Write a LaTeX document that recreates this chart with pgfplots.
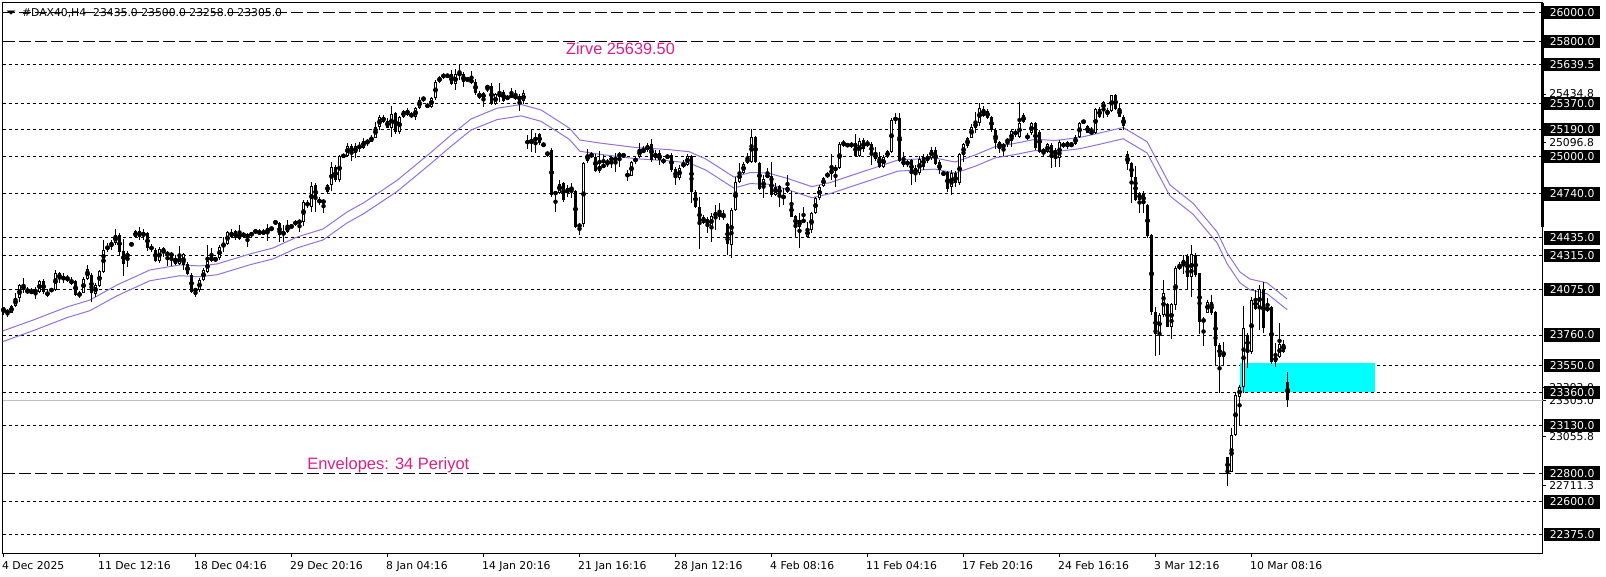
\documentclass[border=0pt]{standalone}
\usepackage{fontspec}
\setmainfont{DejaVu Sans}
\newfontfamily\arialfont{Liberation Sans}
\usepackage{pgfplots}
\usepackage{pgfplotstable}
\pgfplotsset{compat=1.18}

\definecolor{envcol}{RGB}{147,112,219}
\definecolor{annot}{RGB}{220,30,140}
\definecolor{bidgray}{RGB}{192,192,192}
\definecolor{zonecyan}{RGB}{0,255,255}

% H4 bars: index, open, high, low, close
\pgfplotstableread{
i o h l c
0 23952 23957 23899 23922
1 23929 23934 23887 23915
2 23915 23969 23911 23962
3 23962 24050 23957 24015
4 24015 24114 23992 24107
5 24107 24154 24050 24073
6 24077 24096 24045 24050
7 24068 24084 24045 24050
8 24059 24091 24008 24073
9 24061 24142 24054 24135
10 24135 24147 24045 24059
11 24061 24073 24022 24033
12 24077 24084 24061 24068
13 24073 24212 24068 24189
14 24193 24200 24119 24147
15 24161 24189 24119 24152
16 24161 24177 24131 24138
17 24119 24161 24107 24138
18 24138 24142 24031 24038
19 24031 24068 24015 24054
20 24054 24161 24050 24152
21 24152 24246 24142 24216
22 24179 24193 23992 24050
23 24045 24119 24026 24107
24 24103 24212 24096 24207
25 24200 24420 24193 24351
26 24351 24397 24339 24381
27 24374 24420 24351 24409
28 24397 24494 24386 24455
29 24455 24471 24316 24335
30 24344 24425 24170 24253
31 24323 24344 24235 24305
32 24390 24393 24385 24392
33 24439 24490 24432 24483
34 24443 24513 24420 24483
35 24467 24494 24420 24455
36 24467 24478 24346 24362
37 24369 24392 24339 24360
38 24351 24362 24270 24274
39 24277 24369 24263 24355
40 24362 24374 24305 24332
41 24328 24346 24242 24321
42 24332 24339 24240 24305
43 24293 24316 24247 24253
44 24253 24379 24247 24316
45 24247 24328 24212 24321
46 24253 24270 24177 24184
47 24177 24189 24050 24061
48 24077 24084 24022 24068
49 24073 24154 24061 24142
50 24142 24223 24138 24212
51 24200 24386 24193 24274
52 24274 24362 24270 24309
53 24293 24305 24270 24277
54 24293 24386 24281 24369
55 24369 24439 24339 24397
56 24392 24485 24386 24474
57 24478 24494 24432 24443
58 24483 24490 24420 24432
59 24425 24525 24420 24471
60 24471 24478 24436 24443
61 24443 24467 24374 24455
62 24467 24476 24443 24455
63 24490 24497 24462 24471
64 24471 24494 24455 24472
65 24476 24494 24455 24467
66 24467 24531 24416 24501
67 24501 24513 24490 24494
68 24555 24559 24524 24531
69 24536 24548 24409 24455
70 24455 24524 24409 24478
71 24473 24559 24467 24520
72 24520 24524 24501 24511
73 24529 24559 24520 24548
74 24548 24555 24478 24547
75 24548 24698 24520 24687
76 24680 24698 24640 24659
77 24652 24826 24613 24796
78 24803 24814 24613 24705
79 24705 24721 24663 24675
80 24680 24705 24606 24694
81 24756 24807 24745 24803
82 24803 24965 24761 24925
83 24925 24941 24826 24837
84 24837 25011 24826 25004
85 24999 25016 24995 25011
86 25004 25092 24999 25076
87 25076 25085 24969 25023
88 25023 25092 24992 25076
89 25081 25099 25034 25057
90 25062 25127 25053 25108
91 25108 25122 25076 25099
92 25104 25150 25099 25138
93 25131 25243 25127 25208
94 25208 25289 25185 25277
95 25277 25289 25231 25243
96 25247 25266 25196 25201
97 25201 25354 25138 25294
98 25305 25312 25155 25169
99 25169 25284 25155 25277
100 25277 25324 25266 25317
101 25324 25335 25284 25289
102 25301 25308 25266 25273
103 25277 25347 25254 25335
104 25335 25416 25331 25393
105 25393 25416 25382 25412
106 25354 25370 25335 25353
107 25347 25416 25340 25405
108 25405 25532 25393 25521
109 25521 25562 25509 25551
110 25551 25579 25539 25572
111 25567 25574 25552 25555
112 25572 25602 25497 25502
113 25502 25609 25463 25574
114 25567 25639.5 25532 25579
115 25574 25590 25486 25521
116 25544 25555 25521 25525
117 25532 25595 25502 25516
118 25521 25539 25428 25440
119 25444 25456 25400 25405
120 25405 25447 25347 25440
121 25486 25497 25447 25481
122 25491 25509 25358 25363
123 25363 25440 25358 25433
124 25416 25509 25377 25447
125 25451 25463 25382 25386
126 25400 25428 25393 25416
127 25416 25474 25409 25428
128 25405 25463 25393 25421
129 25423 25433 25317 25386
130 25386 25463 25363 25440
131 25108 25150 25053 25092
132 25092 25185 25034 25115
133 25108 25162 25023 25138
134 25155 25162 25081 25092
135 25092 25097 25064 25074
136 25006 25041 25000 25034
137 25046 25057 24722 24733
138 24752 24756 24617 24740
139 24749 24837 24740 24810
140 24814 24826 24687 24698
141 24745 24803 24722 24779
142 24768 24814 24710 24786
143 24763 24768 24501 24508
144 24508 24541 24455 24532
145 24529 24965 24513 24953
146 24969 25050 24953 25011
147 25000 25034 24988 25016
148 25000 25018 24895 24900
149 24902 25041 24884 24935
150 24941 25011 24925 24930
151 24948 24981 24925 24972
152 24988 25000 24918 24976
153 24972 25023 24895 24995
154 24995 25034 24930 25023
155 25018 25027 24988 25000
156 24879 24907 24833 24865
157 24867 24972 24865 24962
158 24960 25004 24948 24993
159 25000 25092 24988 25050
160 25050 25074 25023 25030
161 25046 25097 25034 25074
162 25087 25120 24965 24976
163 24988 25046 24976 25027
164 25027 25046 24941 24976
165 24976 24988 24948 24965
166 24993 25018 24981 25006
167 25011 25023 24895 24907
168 24911 24925 24803 24849
169 24849 24941 24837 24923
170 24925 24976 24918 24958
171 24941 25018 24935 25004
172 25004 25011 24680 24756
173 24756 24768 24640 24652
174 24652 24721 24355 24536
175 24536 24594 24532 24578
176 24566 24582 24467 24525
177 24513 24606 24409 24587
178 24578 24664 24490 24617
179 24582 24675 24559 24617
180 24578 24629 24559 24594
181 24531 24536 24316 24392
182 24386 24640 24297 24629
183 24629 24860 24624 24826
184 24826 24953 24814 24895
185 24888 24965 24879 24948
186 24988 25027 24948 24958
187 24965 25189 24953 25138
188 25138 25145 24953 24965
189 24958 24965 24768 24775
190 24779 24872 24710 24842
191 24872 24918 24849 24860
192 24865 24965 24721 24733
193 24733 24814 24726 24791
194 24796 24803 24652 24726
195 24733 24779 24664 24703
196 24791 24872 24745 24756
197 24675 24763 24578 24582
198 24587 24594 24443 24518
199 24513 24606 24362 24559
200 24559 24652 24536 24548
201 24443 24548 24432 24494
202 24490 24617 24467 24606
203 24606 24720 24600 24712
204 24715 24800 24700 24790
205 24798 24860 24791 24853
206 24860 24890 24849 24884
207 24877 25016 24837 24914
208 24900 24941 24791 24930
209 24918 25104 24914 25085
210 25076 25115 25069 25104
211 25085 25092 25069 25073
212 25069 25104 25062 25092
213 25092 25155 24999 25006
214 25006 25127 24999 25108
215 25115 25127 25034 25053
216 25081 25115 25069 25092
217 25085 25099 24941 25023
218 25023 25069 24969 24983
219 24999 25034 24923 24930
220 24930 25011 24918 24999
221 24999 25046 24988 25039
222 25034 25266 25023 25254
223 25252 25301 25224 25270
224 25266 25301 24960 24969
225 24941 25034 24930 24976
226 24946 24976 24930 24965
227 24976 24983 24802 24884
228 24918 24941 24826 24884
229 24884 25006 24872 24983
230 24999 25016 24907 24930
231 24969 25016 24953 25006
232 24992 25069 24976 25046
233 25046 25069 24941 24948
234 24960 24976 24877 24907
235 24890 24900 24867 24872
236 24890 24900 24756 24775
237 24791 24907 24733 24884
238 24884 24900 24791 24814
239 24814 25023 24802 25016
240 25011 25092 24960 25085
241 25076 25138 25057 25131
242 25131 25224 25127 25208
243 25201 25312 25162 25238
244 25231 25370 25215 25340
245 25331 25354 25277 25284
246 25317 25331 25261 25266
247 25277 25284 25173 25185
248 25185 25196 25053 25092
249 25099 25108 25023 25062
250 25080 25092 25006 25069
251 25099 25127 25069 25122
252 25108 25185 25069 25178
253 25150 25192 25138 25178
254 25138 25382 25127 25231
255 25238 25301 25231 25289
256 25150 25162 25115 25122
257 25162 25243 25150 25231
258 25231 25238 25046 25057
259 25173 25185 25023 25034
260 25046 25057 24999 25034
261 25034 25092 25023 25085
262 25080 25092 24923 24988
263 25046 25062 24930 24999
264 24988 25115 24930 25104
265 25069 25104 25057 25092
266 25099 25108 25053 25069
267 25076 25104 25069 25085
268 25085 25150 25080 25138
269 25138 25243 25131 25231
270 25238 25254 25231 25247
271 25213 25220 25162 25166
272 25173 25208 25157 25162
273 25162 25335 25157 25328
274 25328 25347 25266 25278
275 25325 25389 25266 25382
276 25289 25335 25278 25325
277 25319 25430 25312 25428
278 25428 25434.8 25324 25328
279 25335 25370 25273 25278
280 25278 25289 25185 25213
281 25018 25041 24907 24949
282 24953 24965 24675 24861
283 24861 24935 24694 24698
284 24698 24756 24606 24749
285 24749 24763 24606 24671
286 24664 24671 24432 24448
287 24455 24462 23899 23922
288 23922 23957 23614 23767
289 23776 23915 23621 23899
290 23899 24142 23888 24050
291 23976 23985 23813 23818
292 23818 23985 23730 23976
293 23969 24240 23934 24223
294 24217 24270 24212 24247
295 24247 24316 24184 24281
296 24309 24323 24077 24165
297 24165 24386 24022 24323
298 24316 24328 24165 24177
299 24189 24193 23767 23853
300 23853 23883 23686 23869
301 23915 24003 23911 23992
302 23992 24038 23899 23911
303 23922 23927 23552 23686
304 23691 23702 23355 23605
305 23609 23714 23552 23644
306 22910 22914 22711.3 22806
307 22810 23111 22806 23065
308 23065 23355 23058 23343
309 23332 23413 23130 23396
310 23396 23962 23355 23806
311 23760 23772 23528 23651
312 23644 24022 23628 24003
313 24015 24073 23934 23938
314 23938 24108 23795 24077
315 24077 24131 23772 23806
316 23929 24015 23922 23952
317 23957 23962 23559 23575
318 23575 23702 23540 23609
319 23605 23841 23598 23698
320 23698 23725 23637 23644
321 23435 23500 23258 23305
}\candles

% Envelopes (34): upper and lower band
\pgfplotstableread{
i up lo
-0.2 23788 23714
7.4 23864 23790
15.9 23955 23881
21.6 24003 23929
28.4 24108 24033
36.6 24212 24137
44.1 24247 24172
49.1 24240 24165
53.4 24254 24179
61.6 24323 24248
67.4 24365 24289
73.4 24441 24365
79.9 24497 24421
85.9 24615 24539
90.1 24680 24604
98.4 24835 24758
106.9 25030 24953
111.9 25150 25072
116.9 25262 25185
123.4 25336 25257
129.4 25362 25283
134.4 25324 25245
141.4 25199 25121
144.1 25115 25037
149.1 25094 25016
158.1 25063 24985
166.1 25049 24971
171.4 25034 24956
175.6 24983 24906
182.6 24858 24781
186.6 24889 24812
191.1 24886 24809
195.9 24849 24772
202.1 24791 24714
206.6 24819 24742
213.6 24884 24807
223.6 24976 24899
232.9 24990 24913
237.9 24962 24885
242.9 25011 24933
247.9 25069 24991
252.9 25092 25014
257.9 25120 25042
262.9 25112 25034
269.1 25133 25055
274.1 25164 25086
279.9 25202 25124
285.9 25103 25025
291.6 24803 24726
297.4 24675 24599
303.4 24476 24400
305.9 24330 24255
309.1 24198 24123
311.6 24149 24074
315.9 24122 24047
320.9 24010 23936
}\envelope

\begin{document}
\begin{tikzpicture}
\path[use as bounding box] (-2.7pt,-23.7pt) rectangle (1603.3pt,553.3pt);
\begin{axis}[
  at={(0pt,0pt)}, anchor=south west,
  scale only axis, width=1540pt, height=550.6pt,
  xmin=-0.2, xmax=384.8, ymin=22243, ymax=26069.5,
  clip=false,
  axis line style={black, line width=1pt},
  ytick=\empty,
  xtick={0,24,...,312},
  xticklabels={4 Dec 2025, 11 Dec 12:16, 18 Dec 04:16, 29 Dec 20:16, 8 Jan 04:16,
    14 Jan 20:16, 21 Jan 16:16, 28 Jan 12:16, 4 Feb 08:16, 11 Feb 04:16,
    17 Feb 20:16, 24 Feb 16:16, 3 Mar 12:16, 10 Mar 08:16},
  xtick pos=bottom, tick align=outside, major tick length=4pt,
  tick style={black, line width=1pt},
  xticklabel style={font=\fontsize{10.8}{12}\selectfont, anchor=base west,
    inner sep=0pt, xshift=-1.5pt, yshift=-12.7pt},
]

% symbol line, struck through by the 26000 line
\node[anchor=center, inner sep=0pt] at (axis cs:1.9,26000)
  {\scalebox{1.3}[0.6]{\fontsize{9}{9}\selectfont ▼}};
\node[anchor=base west, inner sep=0pt, font=\fontsize{10.8}{12}\selectfont]
  at (axis cs:4.6,25972) {\#DAX40,H4\hspace{7pt}23435.0 23500.0 23258.0 23305.0};

% level lines
\pgfplotsinvokeforeach{26000,25800,22800}{
  \addplot[black, line width=1pt, dash pattern=on 12pt off 4pt] coordinates {(-0.2,#1) (384.8,#1)};
}
\pgfplotsinvokeforeach{25639.5,25370,25190,25000,24740,24435,24315,24075,23760,23550,23360,23130,22600,22375}{
  \addplot[black, line width=1pt, dash pattern=on 3pt off 3pt] coordinates {(-0.2,#1) (384.8,#1)};
}
\addplot[bidgray, line width=1pt] coordinates {(-0.2,23305) (384.8,23305)};

% zone
\addplot[fill=zonecyan, draw=none] coordinates {(309,23366) (342.9,23366) (342.9,23563) (309,23563)};

% envelopes
\addplot[envcol, line width=1pt] table[x=i, y=up] \envelope;
\addplot[envcol, line width=1pt] table[x=i, y=lo] \envelope;

% candles: wicks, bodies, hollow part of up bars
\addplot[only marks, mark=none, error bars/.cd, y dir=both, y explicit, error mark=none,
  error bar style={black, solid, line width=1pt}]
  table[x=i, y expr={(\thisrow{h}+\thisrow{l})/2}, y error expr={(\thisrow{h}-\thisrow{l})/2}] \candles;
\addplot[only marks, mark=none, error bars/.cd, y dir=both, y explicit, error mark=none,
  error bar style={black, solid, line width=3pt}]
  table[x=i, y expr={(\thisrow{o}+\thisrow{c})/2}, y error expr={max(abs(\thisrow{o}-\thisrow{c})/2,3.5)}] \candles;
\addplot[only marks, mark=none, error bars/.cd, y dir=both, y explicit, error mark=none,
  error bar style={white, solid, line width=1pt}]
  table[x=i, y expr={(\thisrow{o}+\thisrow{c})/2},
    y error expr={ifthenelse(\thisrow{c}>\thisrow{o}, max((\thisrow{c}-\thisrow{o})/2-6.95,0), 0)}] \candles;

% annotations
\node[annot, anchor=base west, inner sep=0pt, font=\arialfont\fontsize{16.3}{18}\selectfont]
  at (axis cs:140.6,25706) {Zirve 25639.50};
\node[annot, anchor=base west, inner sep=0pt, font=\arialfont\fontsize{16.5}{18}\selectfont]
  at (axis cs:75.9,22822) {Envelopes: 34 Periyot};

% right scale
\addplot[black, line width=3pt] coordinates {(384.8,26069.5) (384.8,24510)};
\pgfplotsinvokeforeach{25434.8,25096.8,23393.0,23305.0,23055.8,22711.3}{
  \draw[black, line width=1pt] (axis cs:384.8,#1) -- ++(3.5pt,0pt);
  \node[anchor=west, inner sep=0pt, font=\fontsize{10.8}{12}\selectfont]
    at (axis cs:384.8,#1) [xshift=6.3pt] {#1};
}
\pgfplotsinvokeforeach{26000.0,25800.0,25639.5,25370.0,25190.0,25000.0,24740.0,24435.0,24315.0,24075.0,23760.0,23550.0,23360.0,23130.0,22800.0,22600.0,22375.0}{
  \node[fill=black, text=white, anchor=west, inner xsep=5.5pt, inner ysep=0pt,
    minimum height=13.3pt, font=\fontsize{10.8}{12}\selectfont]
    at (axis cs:384.8,#1) [xshift=1.3pt] {#1};
}
\end{axis}
\end{tikzpicture}
\end{document}
